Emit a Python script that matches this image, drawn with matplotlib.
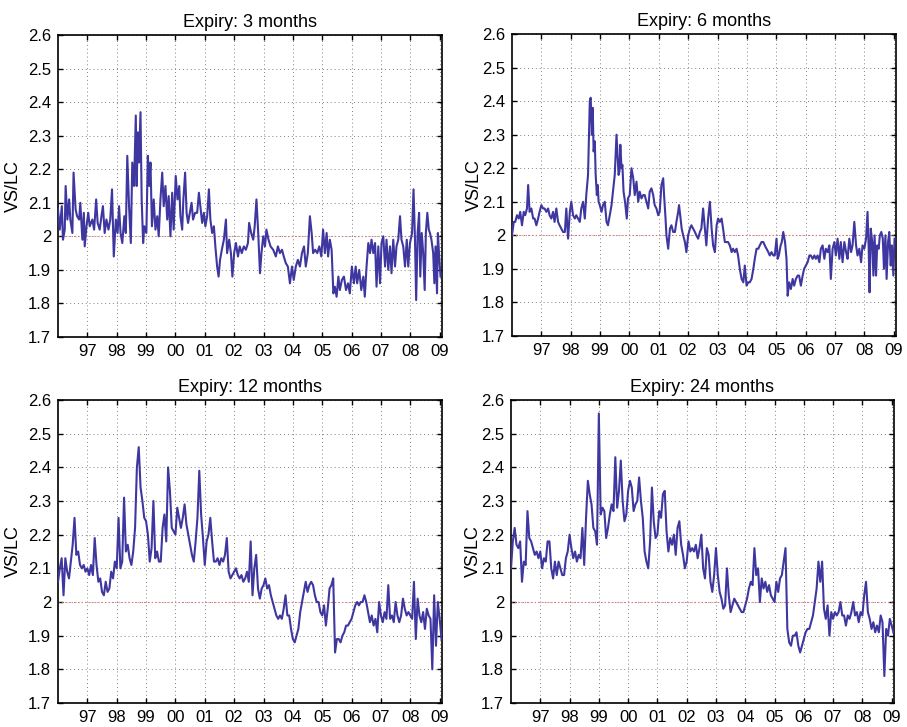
import numpy as np
import matplotlib
matplotlib.use("Agg")
import matplotlib.pyplot as plt
from matplotlib.ticker import FuncFormatter

plt.rcParams['font.family'] = ['Liberation Sans', 'DejaVu Sans']

# --- data (decimal years, VS/LC ratio) ---
expiry_3m = [(1996.00,2.08),(1996.06,2.02),(1996.13,2.09),(1996.17,1.99),(1996.23,2.02),(1996.26,2.15),(1996.32,2.05),(1996.38,2.11),(1996.42,2.05),(1996.49,2.01),(1996.53,2.19),(1996.60,2.08),(1996.65,2.06),(1996.72,2.05),(1996.76,2.10),(1996.83,1.99),(1996.88,2.07),(1996.91,1.97),(1996.97,2.03),
             (1997.03,2.07),(1997.08,2.03),(1997.17,2.05),(1997.23,2.02),(1997.30,2.11),(1997.35,2.04),(1997.42,2.02),(1997.48,2.06),(1997.53,2.09),(1997.59,2.01),(1997.65,2.05),(1997.72,2.02),(1997.78,2.05),(1997.84,2.14),(1997.90,1.94),(1997.97,2.05),
             (1998.03,2.01),(1998.08,2.09),(1998.13,2.01),(1998.19,1.98),(1998.26,2.06),(1998.31,2.01),(1998.36,2.24),(1998.42,2.09),(1998.48,1.98),(1998.53,2.22),(1998.59,2.15),(1998.65,2.36),(1998.68,2.15),(1998.72,2.31),(1998.76,2.22),(1998.81,2.37),(1998.85,2.11),(1998.90,1.98),(1998.94,2.03),
             (1999.01,2.01),(1999.06,2.24),(1999.11,2.15),(1999.15,2.22),(1999.20,2.03),(1999.26,2.11),(1999.32,2.02),(1999.38,2.06),(1999.43,2.00),(1999.49,2.11),(1999.55,2.19),(1999.60,2.09),(1999.66,2.15),(1999.72,2.05),(1999.77,2.12),(1999.83,2.00),(1999.89,2.13),(1999.94,2.02),
             (2000.01,2.18),(2000.07,2.11),(2000.13,2.15),(2000.17,2.06),(2000.23,2.02),(2000.27,2.11),(2000.33,2.19),(2000.38,2.07),(2000.43,2.04),(2000.49,2.07),(2000.55,2.10),(2000.60,2.05),(2000.67,2.07),(2000.74,2.07),(2000.80,2.13),(2000.85,2.09),(2000.91,2.04),(2000.97,2.07),
             (2001.02,2.03),(2001.08,2.06),(2001.14,2.14),(2001.19,2.05),(2001.25,2.01),(2001.31,2.03),(2001.36,1.97),(2001.42,1.91),(2001.47,1.88),(2001.52,1.93),(2001.58,1.96),(2001.65,1.99),(2001.72,2.05),(2001.76,1.95),(2001.83,1.99),(2001.89,1.95),(2001.94,1.88),
             (2002.00,1.95),(2002.06,1.98),(2002.13,1.94),(2002.19,1.97),(2002.26,1.95),(2002.33,1.97),(2002.40,1.96),(2002.47,1.98),(2002.51,2.04),(2002.58,2.01),(2002.65,1.99),(2002.70,2.03),(2002.76,2.11),(2002.82,2.01),(2002.88,1.89),(2002.93,1.95),(2002.99,2.00),
             (2003.05,1.97),(2003.10,2.02),(2003.17,1.99),(2003.24,1.97),(2003.33,1.96),(2003.42,1.94),(2003.49,1.97),(2003.56,1.95),(2003.63,1.96),(2003.69,1.94),(2003.76,1.92),(2003.83,1.91),(2003.90,1.86),(2003.97,1.91),
             (2004.03,1.87),(2004.10,1.91),(2004.17,1.93),(2004.24,1.91),(2004.31,1.95),(2004.38,1.97),(2004.44,1.91),(2004.51,1.95),(2004.58,2.06),(2004.64,2.01),(2004.69,1.95),(2004.76,1.96),(2004.83,1.95),(2004.90,1.97),(2004.97,1.94),
             (2005.03,2.02),(2005.09,1.95),(2005.15,2.01),(2005.20,1.94),(2005.26,1.99),(2005.32,1.96),(2005.38,1.83),(2005.43,1.85),(2005.49,1.82),(2005.55,1.88),(2005.60,1.84),(2005.67,1.87),(2005.74,1.88),(2005.81,1.84),(2005.88,1.86),(2005.94,1.83),
             (2006.01,1.91),(2006.08,1.86),(2006.14,1.91),(2006.19,1.86),(2006.26,1.90),(2006.33,1.84),(2006.40,1.88),(2006.45,1.82),(2006.51,1.91),(2006.57,1.98),(2006.63,1.95),(2006.68,1.99),(2006.74,1.95),(2006.80,1.98),(2006.85,1.85),(2006.91,1.97),(2006.97,1.86),
             (2007.02,1.98),(2007.08,2.00),(2007.14,1.91),(2007.19,1.99),(2007.25,1.90),(2007.31,1.97),(2007.36,1.89),(2007.42,1.99),(2007.48,1.91),(2007.53,1.97),(2007.59,1.99),(2007.65,2.06),(2007.70,1.99),(2007.76,1.97),(2007.82,1.91),(2007.88,1.99),(2007.93,1.91),(2007.99,1.98),
             (2008.06,2.01),(2008.11,2.14),(2008.16,1.99),(2008.20,1.81),(2008.25,2.01),(2008.30,2.07),(2008.34,1.88),(2008.39,2.01),(2008.44,1.95),(2008.49,1.84),(2008.53,2.01),(2008.58,2.07),(2008.63,2.02),(2008.67,2.01),(2008.72,1.99),(2008.78,1.95),(2008.82,1.86),(2008.86,1.97),(2008.91,1.83),(2008.94,2.01),(2008.99,1.93),(2009.03,1.88)]

expiry_6m = [(1996.00,2.00),(1996.06,2.04),(1996.11,2.04),(1996.17,2.06),(1996.23,2.05),(1996.28,2.07),(1996.34,2.03),(1996.40,2.07),(1996.45,2.06),(1996.51,2.08),(1996.55,2.15),(1996.60,2.07),(1996.66,2.08),(1996.72,2.05),(1996.77,2.05),(1996.83,2.03),(1996.89,2.05),(1996.94,2.07),
             (1997.00,2.09),(1997.06,2.08),(1997.11,2.08),(1997.17,2.07),(1997.23,2.08),(1997.28,2.06),(1997.34,2.05),(1997.40,2.07),(1997.45,2.04),(1997.51,2.08),(1997.57,2.04),(1997.62,2.03),(1997.68,2.02),(1997.74,2.01),(1997.80,2.01),(1997.85,2.08),(1997.91,1.99),(1997.97,2.07),
             (1998.02,2.10),(1998.08,2.06),(1998.14,2.05),(1998.19,2.06),(1998.25,2.05),(1998.31,2.04),(1998.36,2.08),(1998.42,2.10),(1998.48,2.05),(1998.53,2.12),(1998.59,2.18),(1998.65,2.40),(1998.68,2.41),(1998.72,2.30),(1998.75,2.38),(1998.78,2.25),(1998.82,2.28),(1998.85,2.18),(1998.89,2.12),(1998.92,2.15),(1998.95,2.10),(1998.99,2.09),
             (1999.05,2.07),(1999.10,2.09),(1999.16,2.10),(1999.22,2.04),(1999.27,2.03),(1999.33,2.06),(1999.39,2.09),(1999.44,2.13),(1999.50,2.18),(1999.56,2.30),(1999.59,2.25),(1999.63,2.18),(1999.66,2.19),(1999.69,2.27),(1999.73,2.20),(1999.76,2.21),(1999.80,2.13),(1999.85,2.10),(1999.91,2.05),(1999.95,2.11),
             (2000.01,2.12),(2000.07,2.20),(2000.13,2.17),(2000.18,2.12),(2000.24,2.16),(2000.30,2.10),(2000.35,2.13),(2000.41,2.11),(2000.47,2.12),(2000.52,2.12),(2000.58,2.10),(2000.64,2.08),(2000.69,2.13),(2000.75,2.14),(2000.81,2.12),(2000.86,2.09),(2000.92,2.08),(2000.98,2.06),
             (2001.03,2.07),(2001.09,2.15),(2001.15,2.17),(2001.18,2.12),(2001.23,2.05),(2001.26,2.00),(2001.32,1.96),(2001.38,2.02),(2001.43,2.03),(2001.49,2.01),(2001.55,2.01),(2001.60,2.04),(2001.66,2.07),(2001.69,2.09),(2001.74,2.05),(2001.78,2.02),(2001.83,2.00),(2001.89,1.98),(2001.94,1.95),
             (2002.00,2.00),(2002.06,2.02),(2002.11,2.03),(2002.17,2.02),(2002.23,2.01),(2002.28,2.00),(2002.34,1.99),(2002.40,2.01),(2002.45,2.02),(2002.51,2.08),(2002.57,2.02),(2002.62,1.97),(2002.68,2.05),(2002.74,2.10),(2002.80,2.02),(2002.85,1.97),(2002.91,1.95),(2002.97,2.03),
             (2003.02,2.05),(2003.08,2.04),(2003.14,2.05),(2003.19,2.02),(2003.25,1.98),(2003.31,1.98),(2003.36,1.98),(2003.42,1.97),(2003.48,1.95),(2003.53,1.96),(2003.59,1.95),(2003.65,1.96),(2003.70,1.94),(2003.76,1.90),(2003.82,1.87),(2003.88,1.86),(2003.93,1.91),(2003.99,1.85),
             (2004.05,1.86),(2004.10,1.86),(2004.16,1.87),(2004.22,1.90),(2004.27,1.93),(2004.33,1.96),(2004.39,1.96),(2004.44,1.97),(2004.50,1.98),(2004.56,1.98),(2004.61,1.97),(2004.67,1.96),(2004.73,1.95),(2004.78,1.94),(2004.84,1.95),(2004.90,1.94),(2004.95,1.94),
             (2005.01,1.99),(2005.05,1.93),(2005.09,1.94),(2005.15,1.97),(2005.19,1.98),(2005.24,2.01),(2005.30,1.98),(2005.35,1.93),(2005.39,1.82),(2005.44,1.86),(2005.50,1.84),(2005.56,1.87),(2005.61,1.85),(2005.67,1.87),(2005.73,1.88),(2005.78,1.88),(2005.84,1.85),(2005.90,1.88),(2005.95,1.90),
             (2006.01,1.91),(2006.07,1.92),(2006.13,1.94),(2006.18,1.94),(2006.24,1.93),(2006.30,1.94),(2006.35,1.93),(2006.41,1.94),(2006.47,1.92),(2006.52,1.96),(2006.58,1.97),(2006.64,1.93),(2006.69,1.96),(2006.75,1.95),(2006.81,1.97),(2006.86,1.87),(2006.92,1.96),(2006.98,1.98),
             (2007.03,1.94),(2007.09,1.99),(2007.15,1.93),(2007.20,1.98),(2007.26,1.92),(2007.32,1.98),(2007.38,1.95),(2007.43,1.93),(2007.49,1.99),(2007.55,1.95),(2007.60,1.97),(2007.66,2.04),(2007.72,1.97),(2007.77,1.94),(2007.83,1.96),(2007.89,1.92),(2007.94,1.97),
             (2008.00,1.96),(2008.06,1.99),(2008.11,2.07),(2008.15,1.96),(2008.18,1.83),(2008.22,2.02),(2008.27,1.98),(2008.31,1.88),(2008.35,2.00),(2008.40,1.88),(2008.44,1.97),(2008.49,1.96),(2008.53,2.00),(2008.58,2.01),(2008.63,1.99),(2008.67,1.90),(2008.72,2.00),(2008.76,1.87),(2008.81,1.98),(2008.85,2.01),(2008.90,1.91),(2008.94,1.97),(2008.99,1.88),(2009.03,1.99)]

# 12m and 24m series read on a 1/16-year grid starting Jan 1996
expiry_12m = [2.06, 2.10, 2.13, 2.02, 2.13, 2.09, 2.07, 2.12, 2.17, 2.25, 2.14, 2.15, 2.11, 2.10, 2.11, 2.09,
              2.10, 2.08, 2.11, 2.08, 2.19, 2.11, 2.06, 2.07, 2.03, 2.02, 2.06, 2.03, 2.04, 2.09, 2.07, 2.12,
              2.10, 2.25, 2.10, 2.12, 2.31, 2.15, 2.17, 2.13, 2.11, 2.15, 2.22, 2.40, 2.46, 2.34, 2.30, 2.25,
              2.24, 2.20, 2.12, 2.16, 2.30, 2.13, 2.15, 2.12, 2.12, 2.22, 2.26, 2.18, 2.40, 2.33, 2.22, 2.21,
              2.20, 2.28, 2.25, 2.22, 2.25, 2.29, 2.23, 2.20, 2.17, 2.14, 2.12, 2.18, 2.25, 2.39, 2.26, 2.19,
              2.11, 2.18, 2.20, 2.25, 2.18, 2.12, 2.12, 2.13, 2.11, 2.13, 2.12, 2.14, 2.19, 2.09, 2.07, 2.08,
              2.09, 2.10, 2.08, 2.07, 2.08, 2.06, 2.07, 2.09, 2.06, 2.18, 2.02, 2.10, 2.14, 2.04, 2.01, 2.04,
              2.05, 2.07, 2.04, 2.05, 2.02, 2.00, 1.98, 1.96, 1.95, 1.96, 1.95, 1.98, 2.02, 1.96, 1.96, 1.92,
              1.89, 1.88, 1.90, 1.92, 1.97, 2.00, 2.03, 2.06, 2.03, 2.05, 2.06, 2.05, 2.02, 2.00, 2.00, 1.97,
              1.96, 1.99, 1.93, 1.98, 2.04, 2.05, 2.07, 1.85, 1.89, 1.89, 1.88, 1.90, 1.91, 1.93, 1.93, 1.94,
              1.95, 1.97, 1.99, 2.00, 1.99, 2.00, 2.00, 2.02, 2.00, 1.97, 1.94, 1.96, 1.93, 1.95, 1.91, 2.00,
              1.96, 1.94, 1.97, 1.95, 2.05, 1.95, 1.96, 1.94, 2.00, 1.96, 1.94, 1.96, 2.01, 1.98, 1.96, 1.97,
              1.96, 1.95, 2.06, 1.89, 2.01, 1.96, 1.94, 1.97, 1.92, 1.98, 1.96, 1.95, 1.80, 2.02, 1.87, 2.00,
              1.95, 1.89]

expiry_24m = [2.10, 2.18, 2.22, 2.17, 2.16, 2.18, 2.06, 2.12, 2.11, 2.27, 2.19, 2.18, 2.16, 2.14, 2.15, 2.13,
              2.15, 2.10, 2.13, 2.12, 2.18, 2.18, 2.10, 2.07, 2.12, 2.08, 2.12, 2.10, 2.08, 2.08, 2.13, 2.15,
              2.20, 2.16, 2.13, 2.15, 2.12, 2.14, 2.13, 2.22, 2.11, 2.25, 2.36, 2.32, 2.29, 2.22, 2.21, 2.17,
              2.56, 2.26, 2.28, 2.27, 2.19, 2.22, 2.26, 2.29, 2.27, 2.43, 2.28, 2.33, 2.42, 2.30, 2.24, 2.26,
              2.33, 2.36, 2.34, 2.27, 2.29, 2.30, 2.37, 2.30, 2.25, 2.15, 2.12, 2.10, 2.18, 2.34, 2.24, 2.19,
              2.20, 2.27, 2.25, 2.32, 2.33, 2.21, 2.15, 2.19, 2.17, 2.20, 2.14, 2.22, 2.24, 2.17, 2.14, 2.10,
              2.12, 2.18, 2.15, 2.16, 2.15, 2.17, 2.13, 2.16, 2.20, 2.10, 2.07, 2.16, 2.14, 2.06, 2.03, 2.08,
              2.16, 2.08, 2.03, 2.01, 1.98, 1.99, 2.10, 2.02, 1.97, 1.99, 2.01, 2.00, 1.99, 1.98, 1.97, 1.97,
              1.99, 2.01, 2.04, 2.06, 2.05, 2.16, 2.08, 2.10, 2.00, 2.07, 2.04, 2.06, 2.03, 2.05, 2.02, 2.01,
              2.00, 2.06, 2.03, 2.07, 2.08, 2.12, 2.16, 1.92, 1.88, 1.87, 1.90, 1.90, 1.91, 1.87, 1.85, 1.87,
              1.89, 1.91, 1.92, 1.92, 1.94, 1.96, 2.00, 2.04, 2.12, 2.06, 2.12, 1.98, 1.95, 1.99, 1.90, 1.97,
              1.95, 1.97, 1.96, 1.97, 2.00, 1.96, 1.96, 1.93, 1.96, 1.95, 1.97, 2.00, 1.96, 1.97, 1.94, 1.97,
              1.96, 2.02, 2.06, 1.97, 1.95, 1.92, 1.94, 1.91, 1.93, 1.91, 1.96, 1.94, 1.78, 1.92, 1.90, 1.95,
              1.93, 1.91]

titles = ["Expiry: 3 months", "Expiry: 6 months", "Expiry: 12 months", "Expiry: 24 months"]
year_ticks = list(range(1997, 2010))
year_labels = ["97", "98", "99", "00", "01", "02", "03", "04", "05", "06", "07", "08", "09"]
y_ticks = [1.7, 1.8, 1.9, 2.0, 2.1, 2.2, 2.3, 2.4, 2.5, 2.6]

t3, v3 = zip(*expiry_3m)
t6, v6 = zip(*expiry_6m)
t12 = 1996 + np.arange(len(expiry_12m)) / 16.0
t24 = 1996 + np.arange(len(expiry_24m)) / 16.0
series = [(t3, v3), (t6, v6), (t12, expiry_12m), (t24, expiry_24m)]

W, H = 907, 727
fig = plt.figure(figsize=(W / 100, H / 100), dpi=100)
# axes boxes in pixels: left, top, right, bottom
boxes = [(58, 35, 442, 337), (512, 34, 896, 336), (58, 400, 442, 703), (511, 400, 894, 703)]
# where the (rotated) y label sits, axes fraction
label_x = [-0.094, -0.076, -0.094, -0.076]

line_col = '#3f37a0'
for i, (x0, y0, x1, y1) in enumerate(boxes):
    ax = fig.add_axes([x0 / W, 1 - y1 / H, (x1 - x0) / W, (y1 - y0) / H])
    t, v = series[i]
    ax.axhline(2.0, color='#e07070', lw=0.8, ls=(0, (1, 2)), zorder=2)
    ax.plot(t, v, color=line_col, lw=1.5, zorder=3)
    ax.set_xlim(1996.0, 2009.08)
    ax.set_ylim(1.7, 2.6)
    ax.set_xticks(year_ticks)
    ax.set_xticklabels(year_labels)
    ax.set_yticks(y_ticks)
    ax.yaxis.set_major_formatter(FuncFormatter(lambda y, p: '%g' % round(y, 2)))
    ax.grid(True, color='#808080', lw=0.7, ls=(0, (1, 3)), zorder=1)
    ax.tick_params(direction='in', top=True, right=True, length=3.5, width=1.0,
                   labelsize=12, pad=5)
    for s in ax.spines.values():
        s.set_linewidth(1.2)
        s.set_color('black')
    ax.set_title(titles[i], fontsize=13, pad=6)
    ax.set_ylabel("VS/LC", fontsize=13)
    ax.yaxis.set_label_coords(label_x[i], 0.5)

fig.savefig("out.png", dpi=100)
